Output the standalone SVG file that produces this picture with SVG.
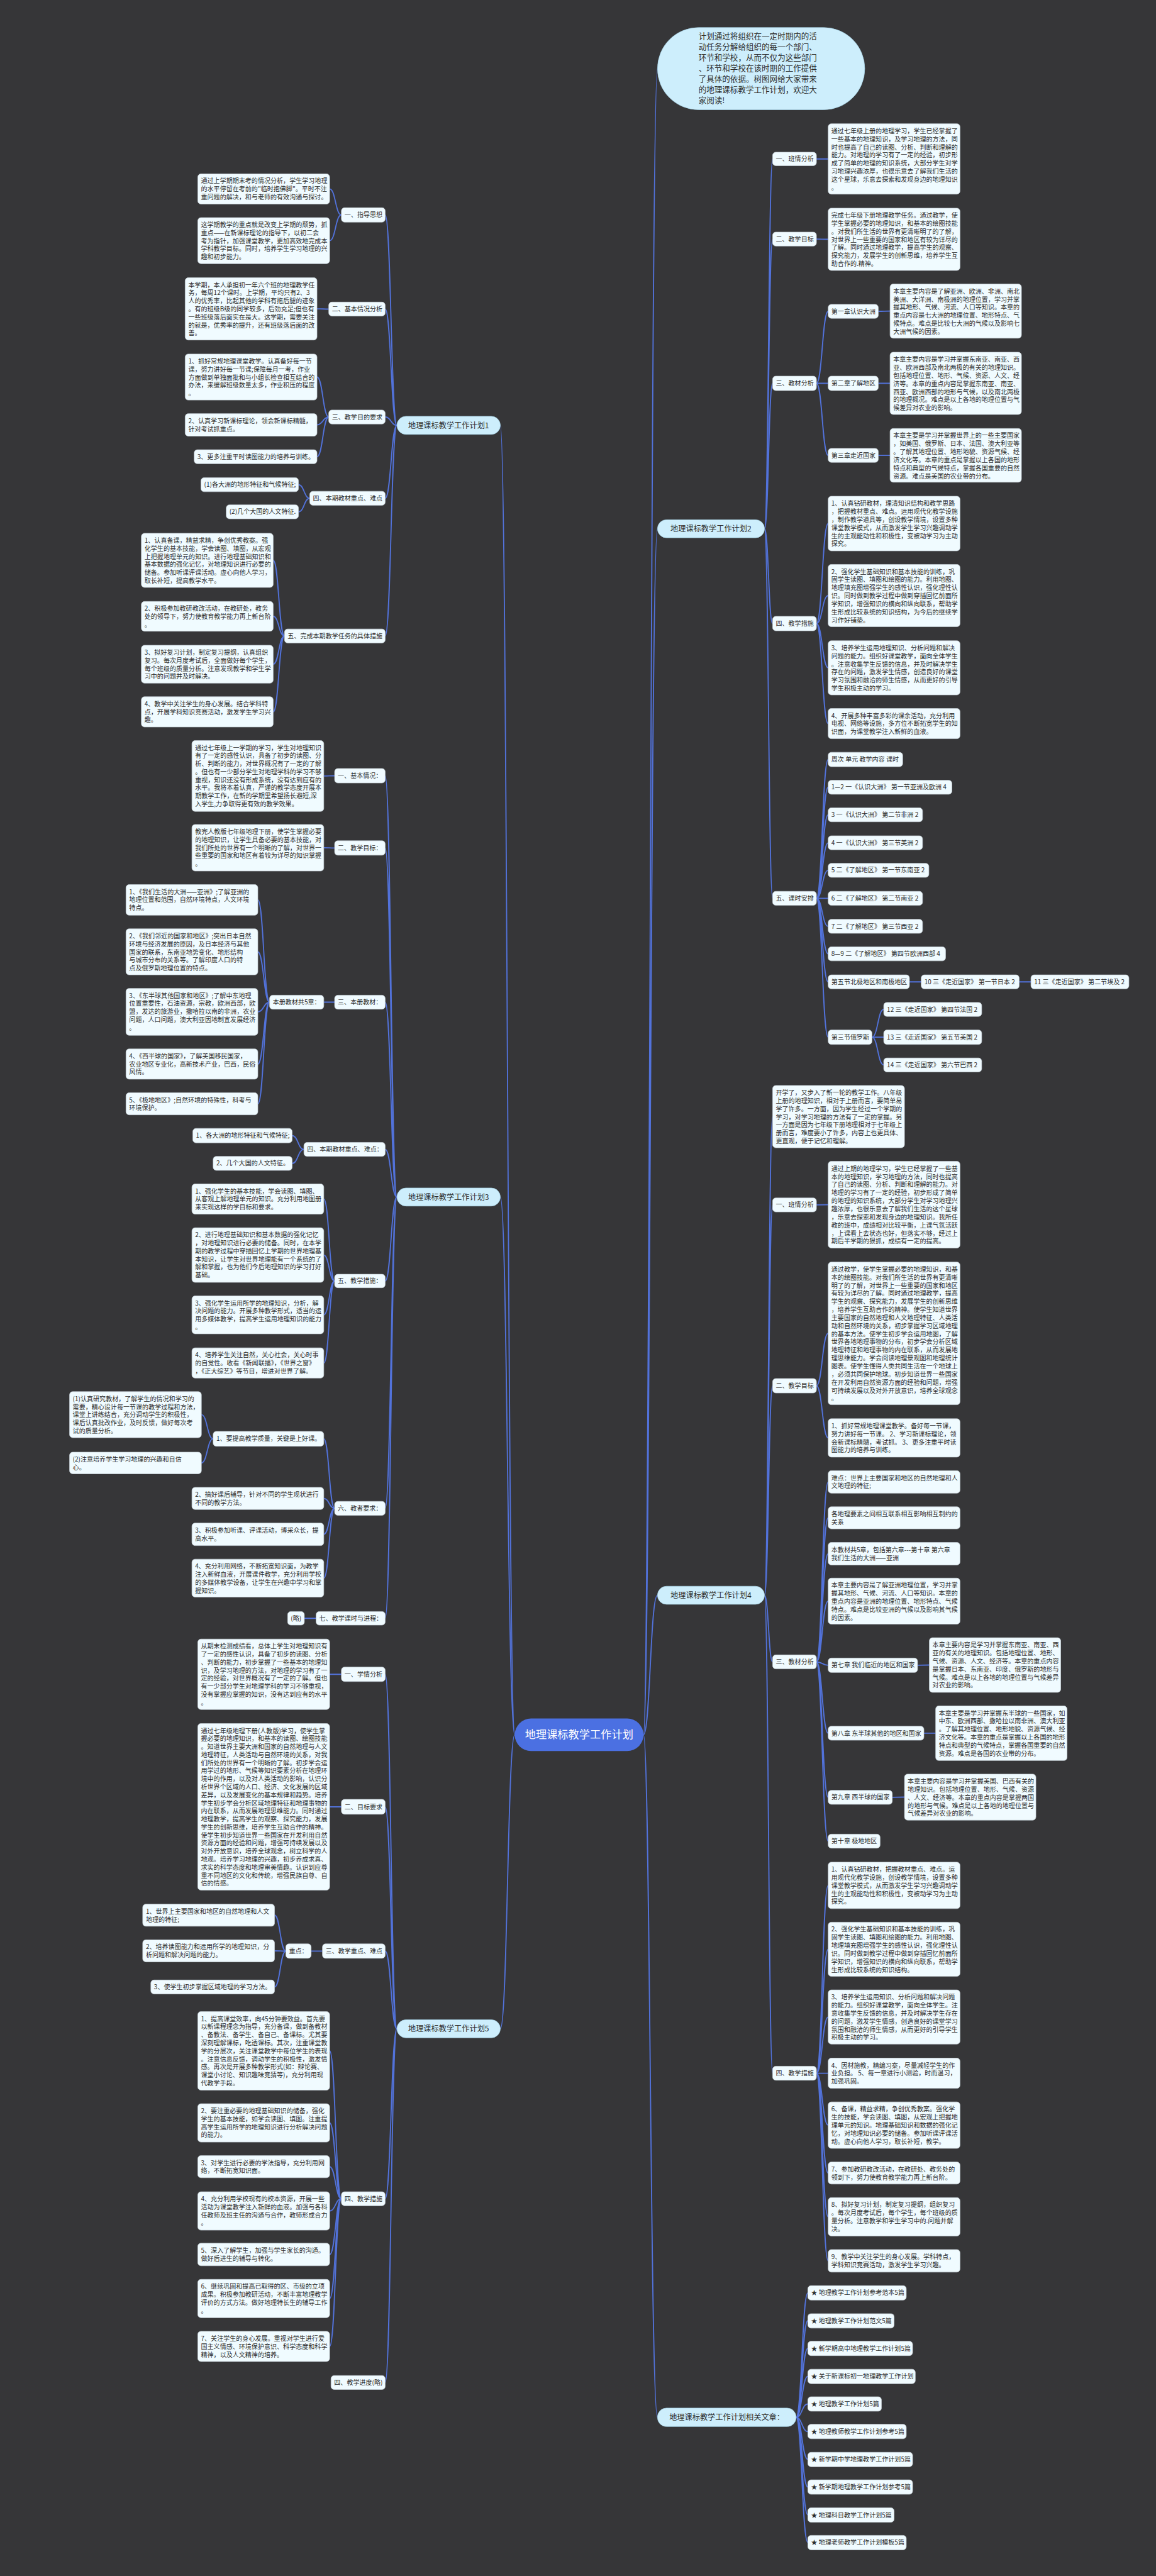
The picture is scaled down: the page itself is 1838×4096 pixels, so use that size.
<svg xmlns="http://www.w3.org/2000/svg" width="1838" height="4096" viewBox="0 0 1838 4096">
<style>
.t{font-family:"Noto Sans CJK SC","Noto Sans",sans-serif;font-size:14px;fill:#2d2d2d}
.b{fill:#f0fbff;stroke:#c5d0d6;stroke-width:1}
.c{fill:none;stroke:#5272da;stroke-width:2.6}
.l1{fill:#cdeefc;stroke:#a9d6ea;stroke-width:1}
.t1{font-family:"Noto Sans CJK SC","Noto Sans",sans-serif;font-size:17px;fill:#2d2d2d;text-anchor:middle}
.tc{font-family:"Noto Sans CJK SC","Noto Sans",sans-serif;font-size:17.5px;fill:#2d2d2d}
.tr{font-family:"Noto Sans CJK SC","Noto Sans",sans-serif;font-size:24px;fill:#ffffff;text-anchor:middle}
</style>
<rect x="0" y="0" width="1838" height="4096" fill="#363638"/>
<g transform="scale(0.71797)">
<g id="connectors">
<path class="c" d="M1140 3842C1124 3842 1124 942 1108 942M1140 3842C1124 3842 1124 2651 1108 2651M1140 3842C1124 3842 1124 4493 1108 4493"/>
<path class="c" d="M1425 3842C1440 3842 1440 152 1456 152M1425 3842C1440 3842 1440 1171 1456 1171M1425 3842C1440 3842 1440 3533 1456 3533M1425 3842C1440 3842 1440 5353.5 1456 5353.5"/>
<path class="c" d="M879 942C866 942 866 476 853 476M879 942C866 942 866 684.5 853 684.5M879 942C866 942 866 923.5 853 923.5M879 942C866 942 866 1103.5 853 1103.5M879 942C866 942 866 1408.5 853 1408.5"/>
<path class="c" d="M756 476C743 476 743 418.5 730 418.5M756 476C743 476 743 533 730 533M728 684.5C715 684.5 715 684 702 684M728 923.5C715 923.5 715 835 702 835M728 923.5C715 923.5 715 941 702 941M728 923.5C715 923.5 715 1011.5 702 1011.5M686 1103.5C673.5 1103.5 673.5 1073.5 661 1073.5M686 1103.5C673.5 1103.5 673.5 1133.5 661 1133.5M630 1408.5C617.5 1408.5 617.5 1241 605 1241M630 1408.5C617.5 1408.5 617.5 1365 605 1365M630 1408.5C617.5 1408.5 617.5 1471 605 1471M630 1408.5C617.5 1408.5 617.5 1576.5 605 1576.5"/>
<path class="c" d="M879 2651C866 2651 866 1718 853 1718M879 2651C866 2651 866 1878 853 1878M879 2651C866 2651 866 2219.5 853 2219.5M879 2651C866 2651 866 2545.5 853 2545.5M879 2651C866 2651 866 2837 853 2837M879 2651C866 2651 866 3340.5 853 3340.5M879 2651C866 2651 866 3584 853 3584"/>
<path class="c" d="M741 1718C729 1718 729 1718.5 717 1718.5M741 1878C729 1878 729 1877.5 717 1877.5M741 2219.5C729 2219.5 729 2219.5 717 2219.5M597 2219.5C584 2219.5 584 1993 571 1993M597 2219.5C584 2219.5 584 2108 571 2108M597 2219.5C584 2219.5 584 2241 571 2241M597 2219.5C584 2219.5 584 2356.5 571 2356.5M597 2219.5C584 2219.5 584 2444.5 571 2444.5M673 2545.5C660 2545.5 660 2515 647 2515M673 2545.5C660 2545.5 660 2576.5 647 2576.5M741 2837C729 2837 729 2655.5 717 2655.5M741 2837C729 2837 729 2779.5 717 2779.5M741 2837C729 2837 729 2912 717 2912M741 2837C729 2837 729 3018.5 717 3018.5M741 3340.5C729 3340.5 729 3186.5 717 3186.5M741 3340.5C729 3340.5 729 3318.5 717 3318.5M741 3340.5C729 3340.5 729 3398 717 3398M741 3340.5C729 3340.5 729 3495 717 3495M472 3186.5C459 3186.5 459 3133 446 3133M472 3186.5C459 3186.5 459 3240 446 3240M700 3584C687 3584 687 3584 674 3584"/>
<path class="c" d="M879 4493C866 4493 866 3708 853 3708M879 4493C866 4493 866 4001.5 853 4001.5M879 4493C866 4493 866 4321 853 4321M879 4493C866 4493 866 4869.5 853 4869.5M879 4493C866 4493 866 5276.5 853 5276.5"/>
<path class="c" d="M756 3708C743 3708 743 3708 730 3708M756 4001.5C743 4001.5 743 4001.5 730 4001.5M714 4321C701.5 4321 701.5 4321 689 4321M633 4321C620.5 4321 620.5 4241.5 608 4241.5M633 4321C620.5 4321 620.5 4320.5 608 4320.5M633 4321C620.5 4321 620.5 4400.5 608 4400.5M756 4869.5C743 4869.5 743 4542 730 4542M756 4869.5C743 4869.5 743 4701.5 730 4701.5M756 4869.5C743 4869.5 743 4798.5 730 4798.5M756 4869.5C743 4869.5 743 4896.5 730 4896.5M756 4869.5C743 4869.5 743 4993 730 4993M756 4869.5C743 4869.5 743 5090.5 730 5090.5M756 4869.5C743 4869.5 743 5196.5 730 5196.5"/>
<path class="c" d="M1693 1171C1702 1171 1702 352 1711 352M1693 1171C1702 1171 1702 529.5 1711 529.5M1693 1171C1702 1171 1702 849 1711 849M1693 1171C1702 1171 1702 1381 1711 1381M1693 1171C1702 1171 1702 1989.5 1711 1989.5"/>
<path class="c" d="M1808 352L1834 352M1808 529.5C1821 529.5 1821 530 1834 530M1808 849C1821 849 1821 689.5 1834 689.5M1808 849L1834 849M1808 849C1821 849 1821 1008.5 1834 1008.5M1945 689.5C1958 689.5 1958 689 1971 689M1945 849L1971 849M1945 1008.5L1971 1008.5M1808 1381C1821 1381 1821 1159.5 1834 1159.5M1808 1381C1821 1381 1821 1319 1834 1319M1808 1381C1821 1381 1821 1479 1834 1479M1808 1381C1821 1381 1821 1602.5 1834 1602.5"/>
<path class="c" d="M1808 1989.5C1821 1989.5 1821 1682 1834 1682M1808 1989.5C1821 1989.5 1821 1743.5 1834 1743.5M1808 1989.5C1821 1989.5 1821 1804.5 1834 1804.5M1808 1989.5C1821 1989.5 1821 1866.5 1834 1866.5M1808 1989.5C1821 1989.5 1821 1927.5 1834 1927.5M1808 1989.5L1834 1989.5M1808 1989.5C1821 1989.5 1821 2051.5 1834 2051.5M1808 1989.5C1821 1989.5 1821 2112.5 1834 2112.5M1808 1989.5C1821 1989.5 1821 2174.5 1834 2174.5M1808 1989.5C1821 1989.5 1821 2297 1834 2297M2014 2174.5L2040 2174.5M2257 2174.5L2283 2174.5M1931 2297C1944 2297 1944 2235.5 1957 2235.5M1931 2297L1957 2297M1931 2297C1944 2297 1944 2358.5 1957 2358.5"/>
<path class="c" d="M1693 3533C1702 3533 1702 2473 1711 2473M1693 3533C1702 3533 1702 2668.5 1711 2668.5M1693 3533C1702 3533 1702 3069 1711 3069M1693 3533C1702 3533 1702 3680.5 1711 3680.5M1693 3533C1702 3533 1702 4591.5 1711 4591.5"/>
<path class="c" d="M1808 2668.5L1834 2668M1808 3069C1821 3069 1821 2953 1834 2953M1808 3069C1821 3069 1821 3184.5 1834 3184.5M1808 3680.5C1821 3680.5 1821 3282 1834 3282M1808 3680.5C1821 3680.5 1821 3361.5 1834 3361.5M1808 3680.5C1821 3680.5 1821 3441 1834 3441M1808 3680.5C1821 3680.5 1821 3546 1834 3546M1808 3680.5C1821 3680.5 1821 3688 1834 3688M1808 3680.5C1821 3680.5 1821 3838.5 1834 3838.5M1808 3680.5C1821 3680.5 1821 3980.5 1834 3980.5M1808 3680.5C1821 3680.5 1821 4077.5 1834 4077.5M2032 3688L2058 3687.5M2046 3838.5L2072 3838.5M1976 3980.5L2003 3980"/>
<path class="c" d="M1808 4591.5C1821 4591.5 1821 4175.5 1834 4175.5M1808 4591.5C1821 4591.5 1821 4317 1834 4317M1808 4591.5C1821 4591.5 1821 4467 1834 4467M1808 4591.5L1834 4591.5M1808 4591.5C1821 4591.5 1821 4706.5 1834 4706.5M1808 4591.5C1821 4591.5 1821 4812.5 1834 4812.5M1808 4591.5C1821 4591.5 1821 4909.5 1834 4909.5M1808 4591.5C1821 4591.5 1821 5007 1834 5007"/>
<path class="c" d="M1763 5353.5C1776 5353.5 1776 5078 1789 5078M1763 5353.5C1776 5353.5 1776 5139.5 1789 5139.5M1763 5353.5C1776 5353.5 1776 5201 1789 5201M1763 5353.5C1776 5353.5 1776 5262.5 1789 5262.5M1763 5353.5C1776 5353.5 1776 5324 1789 5324M1763 5353.5C1776 5353.5 1776 5385 1789 5385M1763 5353.5C1776 5353.5 1776 5446.5 1789 5446.5M1763 5353.5C1776 5353.5 1776 5508 1789 5508M1763 5353.5C1776 5353.5 1776 5569.5 1789 5569.5M1763 5353.5C1776 5353.5 1776 5630.5 1789 5630.5"/>
</g>

<g id="root"><rect x="1140" y="3806" width="285" height="72" rx="36" fill="#4b70e2"/><text class="tr" x="1282.5" y="3850">地理课标教学工作计划</text></g>

<g id="callout"><rect x="1456" y="61" width="459" height="182" rx="91" class="l1"/><text class="tc" y="87"><tspan x="1547">计划通过将组织在一定时期内的活</tspan><tspan x="1547" dy="23.6">动任务分解给组织的每一个部门、</tspan><tspan x="1547" dy="23.6">环节和学校，从而不仅为这些部门</tspan><tspan x="1547" dy="23.6">、环节和学校在该时期的工作提供</tspan><tspan x="1547" dy="23.6">了具体的依据。树图网给大家带来</tspan><tspan x="1547" dy="23.6">的地理课标教学工作计划，欢迎大</tspan><tspan x="1547" dy="23.6">家阅读!</tspan></text></g>

<!-- Plan 1 -->
<g id="n1"><rect x="879" y="922" width="229" height="40" rx="20" class="l1"/><text class="t1" x="993.5" y="948">地理课标教学工作计划1</text></g>
<g id="p1-1"><rect x="756" y="460" width="97" height="32" rx="7" class="b"/><text class="t" x="763" y="481">一、指导思想</text></g>
<g id="p1-1a"><rect x="438" y="385" width="292" height="67" rx="7" class="b"/><text class="t" y="406"><tspan x="445">通过上学期期末考的情况分析，学生学习地理</tspan><tspan x="445" dy="17.8">的水平停留在考前的"临时抱佛脚"。平时不注</tspan><tspan x="445" dy="17.8">重问题的解决，和与老师的有效沟通与探讨。</tspan></text></g>
<g id="p1-1b"><rect x="438" y="482" width="292" height="102" rx="7" class="b"/><text class="t" y="503"><tspan x="445">这学期教学的重点就是改变上学期的颓势，抓</tspan><tspan x="445" dy="17.8">重点——在新课标理论的指导下，以初二会</tspan><tspan x="445" dy="17.8">考为指针，加强课堂教学，更加高效地完成本</tspan><tspan x="445" dy="17.8">学科教学目标。同时，培养学生学习地理的兴</tspan><tspan x="445" dy="17.8">趣和初步能力。</tspan></text></g>
<g id="p1-2"><rect x="728" y="669" width="125" height="31" rx="7" class="b"/><text class="t" x="735" y="689.5">二、基本情况分析</text></g>
<g id="p1-2a"><rect x="410" y="615" width="292" height="138" rx="7" class="b"/><text class="t" y="636"><tspan x="417">本学期，本人承担初一年六个班的地理教学任</tspan><tspan x="417" dy="17.8">务，每周12个课时。上学期，平均只有2、3</tspan><tspan x="417" dy="17.8">人的优秀率，比起其他的学科有拖后腿的迹象</tspan><tspan x="417" dy="17.8">。有的班级B级的同学较多，后劲充足;但也有</tspan><tspan x="417" dy="17.8">一些班级落后面实在是大。这学期，需要关注</tspan><tspan x="417" dy="17.8">的就是，优秀率的提升，还有班级落后面的改</tspan><tspan x="417" dy="17.8">善。</tspan></text></g>
<g id="p1-3"><rect x="728" y="908" width="125" height="31" rx="7" class="b"/><text class="t" x="735" y="928.5">三、教学目的要求</text></g>
<g id="p1-3a"><rect x="410" y="784" width="292" height="102" rx="7" class="b"/><text class="t" y="805"><tspan x="417">1、抓好常规地理课堂教学。认真备好每一节</tspan><tspan x="417" dy="17.8">课，努力讲好每一节课;保障每月一考，作业</tspan><tspan x="417" dy="17.8">方面做到单独面批和与小组长检查相互结合的</tspan><tspan x="417" dy="17.8">办法，来缓解班级数量太多，作业积压的程度</tspan><tspan x="417" dy="17.8">。</tspan></text></g>
<g id="p1-3b"><rect x="410" y="916" width="292" height="50" rx="7" class="b"/><text class="t" y="937"><tspan x="417">2、认真学习新课标理论，领会新课标精髓，</tspan><tspan x="417" dy="17.8">针对考试抓重点。</tspan></text></g>
<g id="p1-3c"><rect x="430" y="996" width="272" height="31" rx="7" class="b"/><text class="t" x="437" y="1016.5">3、更多注重平时读图能力的培养与训练。</text></g>
<g id="p1-4"><rect x="686" y="1088" width="167" height="31" rx="7" class="b"/><text class="t" x="693" y="1108.5">四、本期教材重点、难点</text></g>
<g id="p1-4a"><rect x="445" y="1058" width="216" height="31" rx="7" class="b"/><text class="t" x="452" y="1078.5">(1)各大洲的地形特征和气候特征;</text></g>
<g id="p1-4b"><rect x="501" y="1118" width="160" height="31" rx="7" class="b"/><text class="t" x="508" y="1138.5">(2)几个大国的人文特征.</text></g>
<g id="p1-5"><rect x="630" y="1393" width="223" height="31" rx="7" class="b"/><text class="t" x="637" y="1413.5">五、完成本期教学任务的具体措施</text></g>
<g id="p1-5a"><rect x="313" y="1181" width="292" height="120" rx="7" class="b"/><text class="t" y="1202"><tspan x="320">1、认真备课，精益求精，争创优秀教案。强</tspan><tspan x="320" dy="17.8">化学生的基本技能，学会读图、填图，从宏观</tspan><tspan x="320" dy="17.8">上把握地理单元的知识。进行地理基础知识和</tspan><tspan x="320" dy="17.8">基本数据的强化记忆，对地理知识进行必要的</tspan><tspan x="320" dy="17.8">储备。参加听课评课活动。虚心向他人学习，</tspan><tspan x="320" dy="17.8">取长补短，提高教学水平。</tspan></text></g>
<g id="p1-5b"><rect x="313" y="1332" width="292" height="66" rx="7" class="b"/><text class="t" y="1353"><tspan x="320">2、积极参加教研教改活动，在教研处，教务</tspan><tspan x="320" dy="17.8">处的领导下，努力使教育教学能力再上新台阶</tspan><tspan x="320" dy="17.8">。</tspan></text></g>
<g id="p1-5c"><rect x="313" y="1429" width="292" height="84" rx="7" class="b"/><text class="t" y="1450"><tspan x="320">3、拟好复习计划，制定复习提纲，认真组织</tspan><tspan x="320" dy="17.8">复习。每次月度考试后，全面做好每个学生，</tspan><tspan x="320" dy="17.8">每个班级的质量分析。注意发现教学和学生学</tspan><tspan x="320" dy="17.8">习中的问题并及时解决。</tspan></text></g>
<g id="p1-5d"><rect x="313" y="1543" width="292" height="67" rx="7" class="b"/><text class="t" y="1564"><tspan x="320">4、教学中关注学生的身心发展。结合学科特</tspan><tspan x="320" dy="17.8">点，开展学科知识竞赛活动，激发学生学习兴</tspan><tspan x="320" dy="17.8">趣。</tspan></text></g>

<!-- Plan 3 -->
<g id="n3"><rect x="879" y="2631" width="229" height="40" rx="20" class="l1"/><text class="t1" x="993.5" y="2657">地理课标教学工作计划3</text></g>
<g id="p3-1"><rect x="741" y="1702" width="112" height="32" rx="7" class="b"/><text class="t" x="748" y="1723">一、基本情况：</text></g>
<g id="p3-1a"><rect x="425" y="1640" width="292" height="157" rx="7" class="b"/><text class="t" y="1661"><tspan x="432">通过七年级上一学期的学习，学生对地理知识</tspan><tspan x="432" dy="17.8">有了一定的感性认识，具备了初步的读图、分</tspan><tspan x="432" dy="17.8">析、判断的能力，对世界概况有了一定的了解</tspan><tspan x="432" dy="17.8">。但也有一少部分学生对地理学科的学习不够</tspan><tspan x="432" dy="17.8">重视，知识还没有形成系统，没有达到应有的</tspan><tspan x="432" dy="17.8">水平。我将本着认真，严谨的教学态度开展本</tspan><tspan x="432" dy="17.8">期教学工作，在新的学期里希望扬长避短,深</tspan><tspan x="432" dy="17.8">入学生,力争取得更有效的教学效果。</tspan></text></g>
<g id="p3-2"><rect x="741" y="1862" width="112" height="32" rx="7" class="b"/><text class="t" x="748" y="1883">二、教学目标：</text></g>
<g id="p3-2a"><rect x="425" y="1826" width="292" height="103" rx="7" class="b"/><text class="t" y="1847"><tspan x="432">教完人教版七年级地理下册，使学生掌握必要</tspan><tspan x="432" dy="17.8">的地理知识，让学生具备必要的基本技能，对</tspan><tspan x="432" dy="17.8">我们所处的世界有一个明晰的了解，对世界一</tspan><tspan x="432" dy="17.8">些重要的国家和地区有着较为详尽的知识掌握</tspan><tspan x="432" dy="17.8">。</tspan></text></g>
<g id="p3-3"><rect x="741" y="2204" width="112" height="31" rx="7" class="b"/><text class="t" x="748" y="2224.5">三、本册教材：</text></g>
<g id="p3-3a"><rect x="597" y="2204" width="120" height="31" rx="7" class="b"/><text class="t" x="604" y="2224.5">本册教材共5章：</text></g>
<g id="p3-3a1"><rect x="279" y="1959" width="292" height="68" rx="7" class="b"/><text class="t" y="1980"><tspan x="286">1、《我们生活的大洲——亚洲》;了解亚洲的</tspan><tspan x="286" dy="17.8">地理位置和范围，自然环境特点，人文环境</tspan><tspan x="286" dy="17.8">特点。</tspan></text></g>
<g id="p3-3a2"><rect x="279" y="2057" width="292" height="102" rx="7" class="b"/><text class="t" y="2078"><tspan x="286">2、《我们邻近的国家和地区》;突出日本自然</tspan><tspan x="286" dy="17.8">环境与经济发展的原因，及日本经济与其他</tspan><tspan x="286" dy="17.8">国家的联系，东南亚地势变化、地形结构</tspan><tspan x="286" dy="17.8">与城市分布的关系等。了解印度人口的特</tspan><tspan x="286" dy="17.8">点及俄罗斯地理位置的特点。</tspan></text></g>
<g id="p3-3a3"><rect x="279" y="2189" width="292" height="104" rx="7" class="b"/><text class="t" y="2210"><tspan x="286">3、《东半球其他国家和地区》;了解中东地理</tspan><tspan x="286" dy="17.8">位置重要性，石油资源，宗教，欧洲西部，欧</tspan><tspan x="286" dy="17.8">盟，发达的旅游业，撒哈拉以南的非洲，农业</tspan><tspan x="286" dy="17.8">问题，人口问题，澳大利亚因地制宜发展经济</tspan><tspan x="286" dy="17.8">。</tspan></text></g>
<g id="p3-3a4"><rect x="279" y="2323" width="292" height="67" rx="7" class="b"/><text class="t" y="2344"><tspan x="286">4、《西半球的国家》，了解美国移民国家，</tspan><tspan x="286" dy="17.8">农业地区专业化，高新技术产业，巴西，民俗</tspan><tspan x="286" dy="17.8">风情。</tspan></text></g>
<g id="p3-3a5"><rect x="279" y="2420" width="292" height="49" rx="7" class="b"/><text class="t" y="2441"><tspan x="286">5、《极地地区》;自然环境的特殊性，科考与</tspan><tspan x="286" dy="17.8">环境保护。</tspan></text></g>
<g id="p3-4"><rect x="673" y="2530" width="180" height="31" rx="7" class="b"/><text class="t" x="680" y="2550.5">四、本期教材重点、难点：</text></g>
<g id="p3-4a"><rect x="427" y="2499" width="220" height="32" rx="7" class="b"/><text class="t" x="434" y="2520">1、各大洲的地形特征和气候特征;</text></g>
<g id="p3-4b"><rect x="472" y="2561" width="175" height="31" rx="7" class="b"/><text class="t" x="479" y="2581.5">2、几个大国的人文特征。</text></g>
<g id="p3-5"><rect x="741" y="2822" width="112" height="30" rx="7" class="b"/><text class="t" x="748" y="2842">五、教学措施：</text></g>
<g id="p3-5a"><rect x="425" y="2622" width="292" height="67" rx="7" class="b"/><text class="t" y="2643"><tspan x="432">1、强化学生的基本技能，学会读图、填图、</tspan><tspan x="432" dy="17.8">从客观上解地理单元的知识。充分利用地图册</tspan><tspan x="432" dy="17.8">来实现这样的学目标和要求。</tspan></text></g>
<g id="p3-5b"><rect x="425" y="2719" width="292" height="121" rx="7" class="b"/><text class="t" y="2740"><tspan x="432">2、进行地理基础知识和基本数据的强化记忆</tspan><tspan x="432" dy="17.8">，对地理知识进行必要的储备。同时，在本学</tspan><tspan x="432" dy="17.8">期的教学过程中穿插回忆上学期的世界地理基</tspan><tspan x="432" dy="17.8">本知识，让学生对世界地理能有一个系统的了</tspan><tspan x="432" dy="17.8">解和掌握，也为他们今后地理知识的学习打好</tspan><tspan x="432" dy="17.8">基础。</tspan></text></g>
<g id="p3-5c"><rect x="425" y="2870" width="292" height="84" rx="7" class="b"/><text class="t" y="2891"><tspan x="432">3、强化学生运用所学的地理知识，分析，解</tspan><tspan x="432" dy="17.8">决问题的能力。开展多种教学形式，适当的运</tspan><tspan x="432" dy="17.8">用多媒体教学，提高学生运用地理知识的能力</tspan><tspan x="432" dy="17.8">。</tspan></text></g>
<g id="p3-5d"><rect x="425" y="2985" width="292" height="67" rx="7" class="b"/><text class="t" y="3006"><tspan x="432">4、培养学生关注自然，关心社会，关心时事</tspan><tspan x="432" dy="17.8">的自觉性。收看《新闻联播》，《世界之窗》</tspan><tspan x="432" dy="17.8">，《正大综艺》等节目，增进对世界了解。</tspan></text></g>
<g id="p3-6"><rect x="741" y="3325" width="112" height="31" rx="7" class="b"/><text class="t" x="748" y="3345.5">六、教者要求：</text></g>
<g id="p3-6a"><rect x="472" y="3170" width="245" height="33" rx="7" class="b"/><text class="t" x="479" y="3191.5">1、要提高教学质量，关键是上好课。</text></g>
<g id="p3-6a1"><rect x="154" y="3082" width="292" height="102" rx="7" class="b"/><text class="t" y="3103"><tspan x="161">(1)认真研究教材，了解学生的情况和学习的</tspan><tspan x="161" dy="17.8">需要，精心设计每一节课的教学过程和方法，</tspan><tspan x="161" dy="17.8">课堂上讲练结合，充分调动学生的积极性，</tspan><tspan x="161" dy="17.8">课后认真批改作业，及时反馈，做好每次考</tspan><tspan x="161" dy="17.8">试的质量分析。</tspan></text></g>
<g id="p3-6a2"><rect x="154" y="3216" width="292" height="48" rx="7" class="b"/><text class="t" y="3237"><tspan x="161">(2)注意培养学生学习地理的兴趣和自信</tspan><tspan x="161" dy="17.8">心。</tspan></text></g>
<g id="p3-6b"><rect x="425" y="3294" width="292" height="49" rx="7" class="b"/><text class="t" y="3315"><tspan x="432">2、搞好课后辅导，针对不同的学生现状进行</tspan><tspan x="432" dy="17.8">不同的教学方法。</tspan></text></g>
<g id="p3-6c"><rect x="425" y="3373" width="292" height="50" rx="7" class="b"/><text class="t" y="3394"><tspan x="432">3、积极参加听课、评课活动，博采众长，提</tspan><tspan x="432" dy="17.8">高水平。</tspan></text></g>
<g id="p3-6d"><rect x="425" y="3453" width="292" height="84" rx="7" class="b"/><text class="t" y="3474"><tspan x="432">4、充分利用网络，不断拓宽知识面，为教学</tspan><tspan x="432" dy="17.8">注入新鲜血液，开展课件教学，充分利用学校</tspan><tspan x="432" dy="17.8">的多媒体教学设备，让学生在兴趣中学习和掌</tspan><tspan x="432" dy="17.8">握知识。</tspan></text></g>
<g id="p3-7"><rect x="700" y="3569" width="153" height="30" rx="7" class="b"/><text class="t" x="707" y="3589">七、教学课时与进程：</text></g>
<g id="p3-7a"><rect x="637" y="3569" width="37" height="30" rx="7" class="b"/><text class="t" x="644" y="3589">(略)</text></g>

<!-- Plan 5 -->
<g id="n5"><rect x="879" y="4473" width="229" height="40" rx="20" class="l1"/><text class="t1" x="993.5" y="4499">地理课标教学工作计划5</text></g>
<g id="p5-1"><rect x="756" y="3692" width="97" height="32" rx="7" class="b"/><text class="t" x="763" y="3713">一、学情分析</text></g>
<g id="p5-1a"><rect x="438" y="3630" width="292" height="156" rx="7" class="b"/><text class="t" y="3651"><tspan x="445">从期末检测成绩看，总体上学生对地理知识有</tspan><tspan x="445" dy="17.8">了一定的感性认识，具备了初步的读图、分析</tspan><tspan x="445" dy="17.8">、判断的能力，初步掌握了一些基本的地理知</tspan><tspan x="445" dy="17.8">识，及学习地理的方法，对地理的学习有了一</tspan><tspan x="445" dy="17.8">定的经验，对世界概况有了一定的了解。但也</tspan><tspan x="445" dy="17.8">有一少部分学生对地理学科的学习不够重视，</tspan><tspan x="445" dy="17.8">没有掌握应掌握的知识，没有达到应有的水平</tspan><tspan x="445" dy="17.8">。</tspan></text></g>
<g id="p5-2"><rect x="756" y="3985" width="97" height="33" rx="7" class="b"/><text class="t" x="763" y="4006.5">二、目标要求</text></g>
<g id="p5-2a"><rect x="438" y="3817" width="292" height="369" rx="7" class="b"/><text class="t" y="3838"><tspan x="445">通过七年级地理下册(人教版)学习，使学生掌</tspan><tspan x="445" dy="17.8">握必要的地理知识，和基本的读图、绘图技能</tspan><tspan x="445" dy="17.8">。知道世界主要大洲和国家的自然地理与人文</tspan><tspan x="445" dy="17.8">地理特征，人类活动与自然环境的关系，对我</tspan><tspan x="445" dy="17.8">们所处的世界有一个明晰的了解。初步学会运</tspan><tspan x="445" dy="17.8">用学过的地形、气候等知识要素分析在地理环</tspan><tspan x="445" dy="17.8">境中的作用，以及对人类活动的影响，认识分</tspan><tspan x="445" dy="17.8">析世界个区域的人口、经济、文化发展的区域</tspan><tspan x="445" dy="17.8">差异，以及发展变化的基本规律和趋势。培养</tspan><tspan x="445" dy="17.8">学生初步学会分析区域地理特征和地理事物的</tspan><tspan x="445" dy="17.8">内在联系，从而发展地理思维能力。同时通过</tspan><tspan x="445" dy="17.8">地理教学，提高学生的观察、探究能力，发展</tspan><tspan x="445" dy="17.8">学生的创新思维，培养学生互助合作的精神。</tspan><tspan x="445" dy="17.8">使学生初步知道世界一些国家在开发利用自然</tspan><tspan x="445" dy="17.8">资源方面的经验和问题，增强可持续发展以及</tspan><tspan x="445" dy="17.8">对外开放意识，培养全球观念，树立科学的人</tspan><tspan x="445" dy="17.8">地观。培养学习地理的兴趣，初步养成求真、</tspan><tspan x="445" dy="17.8">求实的科学态度和地理审美情趣。认识到应尊</tspan><tspan x="445" dy="17.8">重不同地区的文化和传统，增强民族自尊、自</tspan><tspan x="445" dy="17.8">信的情感。</tspan></text></g>
<g id="p5-3"><rect x="714" y="4305" width="139" height="32" rx="7" class="b"/><text class="t" x="721" y="4326">三、教学重点、难点</text></g>
<g id="p5-3a"><rect x="633" y="4305" width="56" height="32" rx="7" class="b"/><text class="t" x="640" y="4326">重点：</text></g>
<g id="p5-3a1"><rect x="316" y="4217" width="292" height="49" rx="7" class="b"/><text class="t" y="4238"><tspan x="323">1、世界上主要国家和地区的自然地理和人文</tspan><tspan x="323" dy="17.8">地理的特征;</tspan></text></g>
<g id="p5-3a2"><rect x="316" y="4296" width="292" height="49" rx="7" class="b"/><text class="t" y="4317"><tspan x="323">2、培养读图能力和运用所学的地理知识，分</tspan><tspan x="323" dy="17.8">析问题和解决问题的能力。</tspan></text></g>
<g id="p5-3a3"><rect x="334" y="4385" width="274" height="31" rx="7" class="b"/><text class="t" x="341" y="4405.5">3、使学生初步掌握区域地理的学习方法。</text></g>
<g id="p5-4"><rect x="756" y="4854" width="97" height="31" rx="7" class="b"/><text class="t" x="763" y="4874.5">四、教学措施</text></g>
<g id="p5-4a"><rect x="438" y="4455" width="292" height="174" rx="7" class="b"/><text class="t" y="4476"><tspan x="445">1、提高课堂效率，向45分钟要效益。首先要</tspan><tspan x="445" dy="17.8">以新课程理念为指导，充分备课，做到备教材</tspan><tspan x="445" dy="17.8">、备教法、备学生、备自己、备课标。尤其要</tspan><tspan x="445" dy="17.8">深刻理解课标，吃透课标。其次，注重课堂教</tspan><tspan x="445" dy="17.8">学的分层次，关注课堂教学中每位学生的表现</tspan><tspan x="445" dy="17.8">。注意信息反馈，调动学生的积极性，激发情</tspan><tspan x="445" dy="17.8">感。再次是开展多种教学形式(如：辩论赛、</tspan><tspan x="445" dy="17.8">课堂小讨论、知识趣味竞猜等)，充分利用现</tspan><tspan x="445" dy="17.8">代教学手段。</tspan></text></g>
<g id="p5-4b"><rect x="438" y="4659" width="292" height="85" rx="7" class="b"/><text class="t" y="4680"><tspan x="445">2、要注重必要的地理基础知识的储备，强化</tspan><tspan x="445" dy="17.8">学生的基本技能，如学会读图、填图。注重提</tspan><tspan x="445" dy="17.8">高学生运用所学的地理知识进行分析解决问题</tspan><tspan x="445" dy="17.8">的能力。</tspan></text></g>
<g id="p5-4c"><rect x="438" y="4774" width="292" height="49" rx="7" class="b"/><text class="t" y="4795"><tspan x="445">3、对学生进行必要的学法指导，充分利用网</tspan><tspan x="445" dy="17.8">络，不断拓宽知识面。</tspan></text></g>
<g id="p5-4d"><rect x="438" y="4854" width="292" height="85" rx="7" class="b"/><text class="t" y="4875"><tspan x="445">4、充分利用学校现有的校本资源，开展一些</tspan><tspan x="445" dy="17.8">活动为课堂教学注入新鲜的血液。加强与各科</tspan><tspan x="445" dy="17.8">任教师及班主任的沟通与合作，教师形成合力</tspan><tspan x="445" dy="17.8">。</tspan></text></g>
<g id="p5-4e"><rect x="438" y="4968" width="292" height="50" rx="7" class="b"/><text class="t" y="4989"><tspan x="445">5、深入了解学生，加强与学生家长的沟通。</tspan><tspan x="445" dy="17.8">做好后进生的辅导与转化。</tspan></text></g>
<g id="p5-4f"><rect x="438" y="5048" width="292" height="85" rx="7" class="b"/><text class="t" y="5069"><tspan x="445">6、继续巩固和提高已取得的区、市级的立项</tspan><tspan x="445" dy="17.8">成果。积极参加教研活动，不断丰富地理教学</tspan><tspan x="445" dy="17.8">评价的方式方法。做好地理特长生的辅导工作</tspan><tspan x="445" dy="17.8">。</tspan></text></g>
<g id="p5-4g"><rect x="438" y="5163" width="292" height="67" rx="7" class="b"/><text class="t" y="5184"><tspan x="445">7、关注学生的身心发展。重视对学生进行爱</tspan><tspan x="445" dy="17.8">国主义情感、环境保护意识、科学态度和科学</tspan><tspan x="445" dy="17.8">精神，以及人文精神的培养。</tspan></text></g>
<g id="p5-5"><rect x="733" y="5261" width="120" height="31" rx="7" class="b"/><text class="t" x="740" y="5281.5">四、教学进度(略)</text></g>

<!-- Plan 2 -->
<g id="n2"><rect x="1456" y="1151" width="237" height="40" rx="20" class="l1"/><text class="t1" x="1574.5" y="1177">地理课标教学工作计划2</text></g>
<g id="p2-1"><rect x="1711" y="337" width="97" height="30" rx="7" class="b"/><text class="t" x="1718" y="357">一、班情分析</text></g>
<g id="p2-1a"><rect x="1834" y="274" width="292" height="156" rx="7" class="b"/><text class="t" y="295"><tspan x="1841">通过七年级上册的地理学习，学生已经掌握了</tspan><tspan x="1841" dy="17.9">一些基本的地理知识，及学习地理的方法，同</tspan><tspan x="1841" dy="17.9">时也提高了自己的读图、分析、判断和理解的</tspan><tspan x="1841" dy="17.9">能力。对地理的学习有了一定的经验，初步形</tspan><tspan x="1841" dy="17.9">成了简单的地理的知识系统，大部分学生对学</tspan><tspan x="1841" dy="17.9">习地理兴趣浓厚，也很乐意去了解我们生活的</tspan><tspan x="1841" dy="17.9">这个星球，乐意去探索和发现身边的地理知识</tspan><tspan x="1841" dy="17.9">。</tspan></text></g>
<g id="p2-2"><rect x="1711" y="514" width="97" height="31" rx="7" class="b"/><text class="t" x="1718" y="534.5">二、教学目标</text></g>
<g id="p2-2a"><rect x="1834" y="461" width="292" height="138" rx="7" class="b"/><text class="t" y="482"><tspan x="1841">完成七年级下册地理教学任务。通过教学，使</tspan><tspan x="1841" dy="17.9">学生掌握必要的地理知识，和基本的绘图技能</tspan><tspan x="1841" dy="17.9">。对我们所生活的世界有更清晰明了的了解，</tspan><tspan x="1841" dy="17.9">对世界上一些重要的国家和地区有较为详尽的</tspan><tspan x="1841" dy="17.9">了解。同时通过地理教学，提高学生的观察、</tspan><tspan x="1841" dy="17.9">探究能力，发展学生的创新思维，培养学生互</tspan><tspan x="1841" dy="17.9">助合作的.精神。</tspan></text></g>
<g id="p2-3"><rect x="1711" y="833" width="97" height="32" rx="7" class="b"/><text class="t" x="1718" y="854">三、教材分析</text></g>
<g id="p2-3a"><rect x="1834" y="674" width="111" height="31" rx="7" class="b"/><text class="t" x="1841" y="694.5">第一章认识大洲</text></g>
<g id="p2-3a1"><rect x="1971" y="629" width="291" height="120" rx="7" class="b"/><text class="t" y="650"><tspan x="1978">本章主要内容是了解亚洲、欧洲、非洲、南北</tspan><tspan x="1978" dy="17.9">美洲、大洋洲、南极洲的地理位置，学习并掌</tspan><tspan x="1978" dy="17.9">握其地形、气候、河流、人口等知识。本章的</tspan><tspan x="1978" dy="17.9">重点内容是七大洲的地理位置、地形特点、气</tspan><tspan x="1978" dy="17.9">候特点。难点是比较七大洲的气候以及影响七</tspan><tspan x="1978" dy="17.9">大洲气候的因素。</tspan></text></g>
<g id="p2-3b"><rect x="1834" y="833" width="111" height="32" rx="7" class="b"/><text class="t" x="1841" y="854">第二章了解地区</text></g>
<g id="p2-3b1"><rect x="1971" y="780" width="291" height="138" rx="7" class="b"/><text class="t" y="801"><tspan x="1978">本章主要内容是学习并掌握东南亚、南亚、西</tspan><tspan x="1978" dy="17.9">亚、欧洲西部及南北两极的有关的地理知识。</tspan><tspan x="1978" dy="17.9">包括地理位置、地形、气候、资源、人文、经</tspan><tspan x="1978" dy="17.9">济等。本章的重点内容是掌握东南亚、南亚、</tspan><tspan x="1978" dy="17.9">西亚、欧洲西部的地形与气候，以及南北两极</tspan><tspan x="1978" dy="17.9">的地理概况。难点是以上各地的地理位置与气</tspan><tspan x="1978" dy="17.9">候差异对农业的影响。</tspan></text></g>
<g id="p2-3c"><rect x="1834" y="993" width="111" height="31" rx="7" class="b"/><text class="t" x="1841" y="1013.5">第三章走近国家</text></g>
<g id="p2-3c1"><rect x="1971" y="949" width="291" height="119" rx="7" class="b"/><text class="t" y="970"><tspan x="1978">本章主要是学习并掌握世界上的一些主要国家</tspan><tspan x="1978" dy="17.9">，如美国、俄罗斯、日本、法国、澳大利亚等</tspan><tspan x="1978" dy="17.9">。了解其地理位置、地形地貌、资源气候、经</tspan><tspan x="1978" dy="17.9">济文化等。本章的重点是掌握以上各国的地形</tspan><tspan x="1978" dy="17.9">特点和典型的气候特点，掌握各国重要的自然</tspan><tspan x="1978" dy="17.9">资源。难点是美国的农业带的分布。</tspan></text></g>
<g id="p2-4"><rect x="1711" y="1365" width="97" height="32" rx="7" class="b"/><text class="t" x="1718" y="1386">四、教学措施</text></g>
<g id="p2-4a"><rect x="1834" y="1099" width="292" height="121" rx="7" class="b"/><text class="t" y="1120"><tspan x="1841">1、认真钻研教材，理清知识结构和教学思路</tspan><tspan x="1841" dy="17.9">，把握教材重点、难点。运用现代化教学设施</tspan><tspan x="1841" dy="17.9">，制作教学道具等，创设教学情境，设置多种</tspan><tspan x="1841" dy="17.9">课堂教学模式，从而激发学生学习兴趣调动学</tspan><tspan x="1841" dy="17.9">生的主观能动性和积极性，变被动学习为主动</tspan><tspan x="1841" dy="17.9">探究。</tspan></text></g>
<g id="p2-4b"><rect x="1834" y="1250" width="292" height="138" rx="7" class="b"/><text class="t" y="1271"><tspan x="1841">2、强化学生基础知识和基本技能的训练，巩</tspan><tspan x="1841" dy="17.9">固学生读图、填图和绘图的能力。利用地图、</tspan><tspan x="1841" dy="17.9">地理填充图增强学生的感性认识，强化理性认</tspan><tspan x="1841" dy="17.9">识。同时做到教学过程中做到穿插回忆前面所</tspan><tspan x="1841" dy="17.9">学知识，增强知识的横向和纵向联系，帮助学</tspan><tspan x="1841" dy="17.9">生形成比较系统的知识结构，为今后的继续学</tspan><tspan x="1841" dy="17.9">习作好铺垫。</tspan></text></g>
<g id="p2-4c"><rect x="1834" y="1419" width="292" height="120" rx="7" class="b"/><text class="t" y="1440"><tspan x="1841">3、培养学生运用地理知识、分析问题和解决</tspan><tspan x="1841" dy="17.9">问题的能力。组织好课堂教学，面向全体学生</tspan><tspan x="1841" dy="17.9">。注意收集学生反馈的信息，并及时解决学生</tspan><tspan x="1841" dy="17.9">存在的问题，激发学生情感，创造良好的课堂</tspan><tspan x="1841" dy="17.9">学习氛围和融洽的师生情感，从而更好的引导</tspan><tspan x="1841" dy="17.9">学生积极主动的学习。</tspan></text></g>
<g id="p2-4d"><rect x="1834" y="1569" width="292" height="67" rx="7" class="b"/><text class="t" y="1590"><tspan x="1841">4、开展多种丰富多彩的课余活动，充分利用</tspan><tspan x="1841" dy="17.9">电视、网络等设施，多方位不断拓宽学生的知</tspan><tspan x="1841" dy="17.9">识面，为课堂教学注入新鲜的血液。</tspan></text></g>
<g id="p2-5"><rect x="1711" y="1974" width="97" height="31" rx="7" class="b"/><text class="t" x="1718" y="1994.5">五、课时安排</text></g>
<g id="s1"><rect x="1834" y="1666" width="165" height="32" rx="7" class="b"/><text class="t" x="1841" y="1687">周次 单元 教学内容 课时</text></g>
<g id="s2"><rect x="1834" y="1728" width="274" height="31" rx="7" class="b"/><text class="t" x="1841" y="1748.5">1—2 一《认识大洲》 第一节亚洲及欧洲 4</text></g>
<g id="s3"><rect x="1834" y="1789" width="209" height="31" rx="7" class="b"/><text class="t" x="1841" y="1809.5">3 一《认识大洲》 第二节非洲 2</text></g>
<g id="s4"><rect x="1834" y="1851" width="209" height="31" rx="7" class="b"/><text class="t" x="1841" y="1871.5">4 一《认识大洲》 第三节美洲 2</text></g>
<g id="s5"><rect x="1834" y="1912" width="223" height="31" rx="7" class="b"/><text class="t" x="1841" y="1932.5">5 二《了解地区》 第一节东南亚 2</text></g>
<g id="s6"><rect x="1834" y="1974" width="209" height="31" rx="7" class="b"/><text class="t" x="1841" y="1994.5">6 二《了解地区》 第二节南亚 2</text></g>
<g id="s7"><rect x="1834" y="2036" width="209" height="31" rx="7" class="b"/><text class="t" x="1841" y="2056.5">7 二《了解地区》 第三节西亚 2</text></g>
<g id="s8"><rect x="1834" y="2097" width="260" height="31" rx="7" class="b"/><text class="t" x="1841" y="2117.5">8—9 二《了解地区》 第四节欧洲西部 4</text></g>
<g id="s9"><rect x="1834" y="2159" width="180" height="31" rx="7" class="b"/><text class="t" x="1841" y="2179.5">第五节北极地区和南极地区</text></g>
<g id="s9a"><rect x="2040" y="2159" width="217" height="31" rx="7" class="b"/><text class="t" x="2047" y="2179.5">10 三《走近国家》 第一节日本 2</text></g>
<g id="s9b"><rect x="2283" y="2159" width="217" height="31" rx="7" class="b"/><text class="t" x="2290" y="2179.5">11 三《走近国家》 第二节埃及 2</text></g>
<g id="s10"><rect x="1834" y="2281" width="97" height="32" rx="7" class="b"/><text class="t" x="1841" y="2302">第三节俄罗斯</text></g>
<g id="s10a"><rect x="1957" y="2220" width="217" height="31" rx="7" class="b"/><text class="t" x="1964" y="2240.5">12 三《走近国家》 第四节法国 2</text></g>
<g id="s10b"><rect x="1957" y="2281" width="217" height="32" rx="7" class="b"/><text class="t" x="1964" y="2302">13 三《走近国家》 第五节美国 2</text></g>
<g id="s10c"><rect x="1957" y="2343" width="217" height="31" rx="7" class="b"/><text class="t" x="1964" y="2363.5">14 三《走近国家》 第六节巴西 2</text></g>

<!-- Plan 4 -->
<g id="n4"><rect x="1456" y="3513" width="237" height="40" rx="20" class="l1"/><text class="t1" x="1574.5" y="3539">地理课标教学工作计划4</text></g>
<g id="p4-0"><rect x="1711" y="2404" width="292" height="138" rx="7" class="b"/><text class="t" y="2425"><tspan x="1718">开学了，又步入了新一轮的教学工作。八年级</tspan><tspan x="1718" dy="17.9">上册的地理知识，相对于上册而言，要简单易</tspan><tspan x="1718" dy="17.9">学了许多。一方面，因为学生经过一个学期的</tspan><tspan x="1718" dy="17.9">学习，对学习地理的方法有了一定的掌握。另</tspan><tspan x="1718" dy="17.9">一方面是因为七年级下册地理相对于七年级上</tspan><tspan x="1718" dy="17.9">册而言，难度要小了许多，内容上也更具体、</tspan><tspan x="1718" dy="17.9">更直观，便于记忆和理解。</tspan></text></g>
<g id="p4-1"><rect x="1711" y="2653" width="97" height="31" rx="7" class="b"/><text class="t" x="1718" y="2673.5">一、班情分析</text></g>
<g id="p4-1a"><rect x="1834" y="2572" width="292" height="192" rx="7" class="b"/><text class="t" y="2593"><tspan x="1841">通过上期的地理学习，学生已经掌握了一些基</tspan><tspan x="1841" dy="17.9">本的地理知识，学习地理的方法，同时也提高</tspan><tspan x="1841" dy="17.9">了自己的读图、分析、判断和理解的能力。对</tspan><tspan x="1841" dy="17.9">地理的学习有了一定的经验，初步形成了简单</tspan><tspan x="1841" dy="17.9">的地理的知识系统，大部分学生对学习地理兴</tspan><tspan x="1841" dy="17.9">趣浓厚，也很乐意去了解我们生活的这个星球</tspan><tspan x="1841" dy="17.9">，乐意去探索和发现身边的地理知识。我所任</tspan><tspan x="1841" dy="17.9">教的班中，成绩相对比较平衡，上课气氛活跃</tspan><tspan x="1841" dy="17.9">，上课看上去状态也好，但落实不够，经过上</tspan><tspan x="1841" dy="17.9">期后半学期的狠抓，成绩有一定的提高。</tspan></text></g>
<g id="p4-2"><rect x="1711" y="3053" width="97" height="32" rx="7" class="b"/><text class="t" x="1718" y="3074">二、教学目标</text></g>
<g id="p4-2a"><rect x="1834" y="2795" width="292" height="316" rx="7" class="b"/><text class="t" y="2816"><tspan x="1841">通过教学，使学生掌握必要的地理知识，和基</tspan><tspan x="1841" dy="17.9">本的绘图技能。对我们所生活的世界有更清晰</tspan><tspan x="1841" dy="17.9">明了的了解，对世界上一些重要的国家和地区</tspan><tspan x="1841" dy="17.9">有较为详尽的了解。同时通过地理教学，提高</tspan><tspan x="1841" dy="17.9">学生的观察、探究能力，发展学生的创新思维</tspan><tspan x="1841" dy="17.9">，培养学生互助合作的精神。使学生知道世界</tspan><tspan x="1841" dy="17.9">主要国家的自然地理和人文地理特征、人类活</tspan><tspan x="1841" dy="17.9">动和自然环境的关系，初步掌握学习区域地理</tspan><tspan x="1841" dy="17.9">的基本方法。使学生初步学会运用地图，了解</tspan><tspan x="1841" dy="17.9">世界各地地理事物的分布，初步学会分析区域</tspan><tspan x="1841" dy="17.9">地理特征和地理事物的内在联系，从而发展地</tspan><tspan x="1841" dy="17.9">理思维能力。学会阅读地理景观图和地理统计</tspan><tspan x="1841" dy="17.9">图表。使学生懂得人类共同生活在一个地球上</tspan><tspan x="1841" dy="17.9">，必须共同保护地球。初步知道世界一些国家</tspan><tspan x="1841" dy="17.9">在开发利用自然资源方面的经验和问题，增强</tspan><tspan x="1841" dy="17.9">可持续发展以及对外开放意识，培养全球观念</tspan><tspan x="1841" dy="17.9">。</tspan></text></g>
<g id="p4-2b"><rect x="1834" y="3142" width="292" height="85" rx="7" class="b"/><text class="t" y="3163"><tspan x="1841">1、抓好常规地理课堂教学。备好每一节课，</tspan><tspan x="1841" dy="17.9">努力讲好每一节课。 2、学习新课标理论，领</tspan><tspan x="1841" dy="17.9">会新课标精髓，考试抓。 3、更多注重平时读</tspan><tspan x="1841" dy="17.9">图能力的培养与训练。</tspan></text></g>
<g id="p4-3"><rect x="1711" y="3665" width="97" height="31" rx="7" class="b"/><text class="t" x="1718" y="3685.5">三、教材分析</text></g>
<g id="p4-3a"><rect x="1834" y="3257" width="292" height="50" rx="7" class="b"/><text class="t" y="3278"><tspan x="1841">难点：世界上主要国家和地区的自然地理和人</tspan><tspan x="1841" dy="17.9">文地理的特征;</tspan></text></g>
<g id="p4-3b"><rect x="1834" y="3337" width="292" height="49" rx="7" class="b"/><text class="t" y="3358"><tspan x="1841">各地理要素之间相互联系相互影响相互制约的</tspan><tspan x="1841" dy="17.9">关系</tspan></text></g>
<g id="p4-3c"><rect x="1834" y="3416" width="292" height="50" rx="7" class="b"/><text class="t" y="3437"><tspan x="1841">本教材共5章，包括第六章---第十章 第六章</tspan><tspan x="1841" dy="17.9">我们生活的大洲——亚洲</tspan></text></g>
<g id="p4-3d"><rect x="1834" y="3495" width="292" height="102" rx="7" class="b"/><text class="t" y="3516"><tspan x="1841">本章主要内容是了解亚洲地理位置，学习并掌</tspan><tspan x="1841" dy="17.9">握其地形、气候、河流、人口等知识。本章的</tspan><tspan x="1841" dy="17.9">重点内容是亚洲的地理位置、地形特点、气候</tspan><tspan x="1841" dy="17.9">特点。难点是比较亚洲的气候以及影响其气候</tspan><tspan x="1841" dy="17.9">的因素。</tspan></text></g>
<g id="p4-3e"><rect x="1834" y="3672" width="198" height="32" rx="7" class="b"/><text class="t" x="1841" y="3693">第七章 我们临近的地区和国家</text></g>
<g id="p4-3e1"><rect x="2058" y="3627" width="291" height="121" rx="7" class="b"/><text class="t" y="3648"><tspan x="2065">本章主要内容是学习并掌握东南亚、南亚、西</tspan><tspan x="2065" dy="17.9">亚的有关的地理知识。包括地理位置、地形、</tspan><tspan x="2065" dy="17.9">气候、资源、人文、经济等。本章的重点内容</tspan><tspan x="2065" dy="17.9">是掌握日本、东南亚、印度、俄罗斯的地形与</tspan><tspan x="2065" dy="17.9">气候。难点是以上各地的地理位置与气候差异</tspan><tspan x="2065" dy="17.9">对农业的影响。</tspan></text></g>
<g id="p4-3f"><rect x="1834" y="3823" width="212" height="31" rx="7" class="b"/><text class="t" x="1841" y="3843.5">第八章 东半球其他的地区和国家</text></g>
<g id="p4-3f1"><rect x="2072" y="3778" width="291" height="121" rx="7" class="b"/><text class="t" y="3799"><tspan x="2079">本章主要是学习并掌握东半球的一些国家，如</tspan><tspan x="2079" dy="17.9">中东、欧洲西部、撒哈拉以南非洲、澳大利亚</tspan><tspan x="2079" dy="17.9">。了解其地理位置、地形地貌、资源气候、经</tspan><tspan x="2079" dy="17.9">济文化等。本章的重点是掌握以上各国的地形</tspan><tspan x="2079" dy="17.9">特点和典型的气候特点，掌握各国重要的自然</tspan><tspan x="2079" dy="17.9">资源。难点是各国的农业带的分布。</tspan></text></g>
<g id="p4-3g"><rect x="1834" y="3965" width="142" height="31" rx="7" class="b"/><text class="t" x="1841" y="3985.5">第九章 西半球的国家</text></g>
<g id="p4-3g1"><rect x="2003" y="3929" width="291" height="102" rx="7" class="b"/><text class="t" y="3950"><tspan x="2010">本章主要内容是学习并掌握美国、巴西有关的</tspan><tspan x="2010" dy="17.9">地理知识。包括地理位置、地形、气候、资源</tspan><tspan x="2010" dy="17.9">、人文、经济等。本章的重点内容是掌握两国</tspan><tspan x="2010" dy="17.9">的地形与气候。难点是以上各地的地理位置与</tspan><tspan x="2010" dy="17.9">气候差异对农业的影响。</tspan></text></g>
<g id="p4-3h"><rect x="1834" y="4062" width="115" height="31" rx="7" class="b"/><text class="t" x="1841" y="4082.5">第十章 极地地区</text></g>
<g id="p4-4"><rect x="1711" y="4576" width="97" height="31" rx="7" class="b"/><text class="t" x="1718" y="4596.5">四、教学措施</text></g>
<g id="p4-4a"><rect x="1834" y="4124" width="292" height="103" rx="7" class="b"/><text class="t" y="4145"><tspan x="1841">1、认真钻研教材，把握教材重点、难点。运</tspan><tspan x="1841" dy="17.9">用现代化教学设施，创设教学情境，设置多种</tspan><tspan x="1841" dy="17.9">课堂教学模式，从而激发学生学习兴趣调动学</tspan><tspan x="1841" dy="17.9">生的主观能动性和积极性，变被动学习为主动</tspan><tspan x="1841" dy="17.9">探究。</tspan></text></g>
<g id="p4-4b"><rect x="1834" y="4257" width="292" height="120" rx="7" class="b"/><text class="t" y="4278"><tspan x="1841">2、强化学生基础知识和基本技能的训练，巩</tspan><tspan x="1841" dy="17.9">固学生读图、填图和绘图的能力。利用地图、</tspan><tspan x="1841" dy="17.9">地理填充图增强学生的感性认识，强化理性认</tspan><tspan x="1841" dy="17.9">识。同时做到教学过程中做到穿插回忆前面所</tspan><tspan x="1841" dy="17.9">学知识，增强知识的横向和纵向联系，帮助学</tspan><tspan x="1841" dy="17.9">生形成比较系统的知识结构。</tspan></text></g>
<g id="p4-4c"><rect x="1834" y="4407" width="292" height="120" rx="7" class="b"/><text class="t" y="4428"><tspan x="1841">3、培养学生运用知识、分析问题和解决问题</tspan><tspan x="1841" dy="17.9">的能力。组织好课堂教学，面向全体学生。注</tspan><tspan x="1841" dy="17.9">意收集学生反馈的信息，并及时解决学生存在</tspan><tspan x="1841" dy="17.9">的问题，激发学生情感，创造良好的课堂学习</tspan><tspan x="1841" dy="17.9">氛围和融洽的师生情感，从而更好的引导学生</tspan><tspan x="1841" dy="17.9">积极主动的学习。</tspan></text></g>
<g id="p4-4d"><rect x="1834" y="4558" width="292" height="67" rx="7" class="b"/><text class="t" y="4579"><tspan x="1841">4、因材施教，精编习案，尽量减轻学生的作</tspan><tspan x="1841" dy="17.9">业负担。 5、每一章进行小测验，时而温习，</tspan><tspan x="1841" dy="17.9">加强巩固。</tspan></text></g>
<g id="p4-4e"><rect x="1834" y="4655" width="292" height="103" rx="7" class="b"/><text class="t" y="4676"><tspan x="1841">6、备课，精益求精，争创优秀教案。强化学</tspan><tspan x="1841" dy="17.9">生的技能，学会读图、填图，从宏观上把握地</tspan><tspan x="1841" dy="17.9">理单元的知识。地理基础知识和数据的强化记</tspan><tspan x="1841" dy="17.9">忆，对地理知识必要的储备。参加听课评课活</tspan><tspan x="1841" dy="17.9">动。虚心向他人学习，取长补短，教学。</tspan></text></g>
<g id="p4-4f"><rect x="1834" y="4788" width="292" height="49" rx="7" class="b"/><text class="t" y="4809"><tspan x="1841">7、参加教研教改活动，在教研处、教务处的</tspan><tspan x="1841" dy="17.9">领到下，努力使教育教学能力再上新台阶。</tspan></text></g>
<g id="p4-4g"><rect x="1834" y="4867" width="292" height="85" rx="7" class="b"/><text class="t" y="4888"><tspan x="1841">8、拟好复习计划，制定复习提纲，组织复习</tspan><tspan x="1841" dy="17.9">。每次月度考试后，每个学生，每个班级的质</tspan><tspan x="1841" dy="17.9">量分析。注意教学和学生学习中的.问题并解</tspan><tspan x="1841" dy="17.9">决。</tspan></text></g>
<g id="p4-4h"><rect x="1834" y="4982" width="292" height="50" rx="7" class="b"/><text class="t" y="5003"><tspan x="1841">9、教学中关注学生的身心发展。学科特点，</tspan><tspan x="1841" dy="17.9">学科知识竞赛活动，激发学生学习兴趣。</tspan></text></g>

<!-- Related -->
<g id="rel"><rect x="1456" y="5333" width="307" height="41" rx="20" class="l1"/><text class="t1" x="1609.5" y="5359.5">地理课标教学工作计划相关文章：</text></g>
<g id="x1"><rect x="1789" y="5062" width="218" height="32" rx="7" class="b"/><text class="t" x="1796" y="5083">★ 地理教学工作计划参考范本5篇</text></g>
<g id="x2"><rect x="1789" y="5124" width="191" height="32" rx="7" class="b"/><text class="t" x="1796" y="5145">★ 地理教学工作计划范文5篇</text></g>
<g id="x3"><rect x="1789" y="5185" width="232" height="32" rx="7" class="b"/><text class="t" x="1796" y="5206">★ 新学期高中地理教学工作计划5篇</text></g>
<g id="x4"><rect x="1789" y="5247" width="238" height="32" rx="7" class="b"/><text class="t" x="1796" y="5268">★ 关于新课标初一地理教学工作计划</text></g>
<g id="x5"><rect x="1789" y="5308" width="163" height="32" rx="7" class="b"/><text class="t" x="1796" y="5329">★ 地理教学工作计划5篇</text></g>
<g id="x6"><rect x="1789" y="5369" width="218" height="32" rx="7" class="b"/><text class="t" x="1796" y="5390">★ 地理教师教学工作计划参考5篇</text></g>
<g id="x7"><rect x="1789" y="5431" width="232" height="32" rx="7" class="b"/><text class="t" x="1796" y="5452">★ 新学期中学地理教学工作计划5篇</text></g>
<g id="x8"><rect x="1789" y="5492" width="232" height="32" rx="7" class="b"/><text class="t" x="1796" y="5513">★ 新学期地理教学工作计划参考5篇</text></g>
<g id="x9"><rect x="1789" y="5554" width="191" height="32" rx="7" class="b"/><text class="t" x="1796" y="5575">★ 地理科目教学工作计划5篇</text></g>
<g id="x10"><rect x="1789" y="5615" width="218" height="32" rx="7" class="b"/><text class="t" x="1796" y="5636">★ 地理老师教学工作计划模板5篇</text></g>
</g>
</svg>
